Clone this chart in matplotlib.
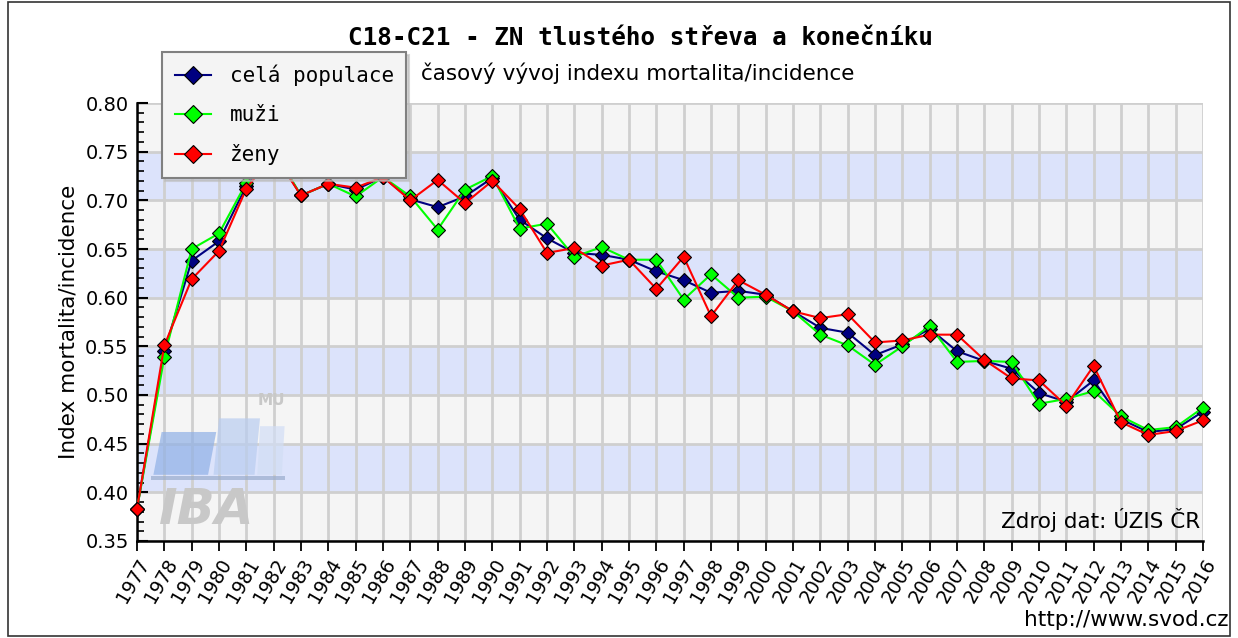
import matplotlib
matplotlib.use("Agg")
import matplotlib.pyplot as plt
from matplotlib.patches import Rectangle, Polygon
from matplotlib.ticker import MultipleLocator

years = list(range(1977, 2017))
cela = [0.383, 0.545, 0.638, 0.658, 0.715, 0.750, 0.705, 0.717, 0.711, 0.724,
        0.701, 0.693, 0.704, 0.723, 0.680, 0.661, 0.646, 0.644, 0.639, 0.627,
        0.618, 0.605, 0.607, 0.603, 0.586, 0.569, 0.564, 0.541, 0.552, 0.568,
        0.545, 0.535, 0.527, 0.502, 0.493, 0.515, 0.475, 0.462, 0.465, 0.483]
muzi = [0.383, 0.539, 0.650, 0.666, 0.718, 0.752, 0.705, 0.717, 0.704, 0.724,
        0.704, 0.670, 0.711, 0.725, 0.671, 0.676, 0.642, 0.652, 0.639, 0.639,
        0.598, 0.624, 0.600, 0.601, 0.586, 0.562, 0.551, 0.531, 0.550, 0.571,
        0.534, 0.535, 0.534, 0.491, 0.496, 0.504, 0.478, 0.464, 0.467, 0.487]
zeny = [0.383, 0.551, 0.619, 0.648, 0.712, 0.748, 0.705, 0.717, 0.713, 0.724,
        0.700, 0.721, 0.697, 0.720, 0.691, 0.646, 0.651, 0.633, 0.639, 0.609,
        0.642, 0.581, 0.618, 0.603, 0.586, 0.579, 0.583, 0.554, 0.556, 0.562,
        0.562, 0.536, 0.517, 0.515, 0.489, 0.530, 0.472, 0.459, 0.463, 0.474]
series_names = ["celá populace", "muži", "ženy"]
series_colors = ["#000080", "#00ff00", "#ff0000"]
y_ticks = [0.35, 0.40, 0.45, 0.50, 0.55, 0.60, 0.65, 0.70, 0.75, 0.80]

fig = plt.figure(figsize=(12.38, 6.38), dpi=100)
fig.patch.set_facecolor("white")
# outer frame
fig.patches.append(Rectangle((8/1238, 2/638), 1222/1238, 634/638, transform=fig.transFigure,
                             fill=False, edgecolor="#333333", linewidth=1.2))

ax = fig.add_axes([137/1238, 1 - 541/638, (1203-137)/1238, (541-103)/638])
ax.set_facecolor("#f5f5f5")
ax.set_xlim(years[0], years[-1])
ax.set_ylim(y_ticks[0], y_ticks[-1])

# alternating bands
for i in range(len(y_ticks) - 1):
    if i % 2 == 1:
        ax.axhspan(y_ticks[i], y_ticks[i+1], color="#dce3fb", zorder=0, linewidth=0)

ax.set_xticks(years)
ax.set_xticklabels([str(y) for y in years], rotation=60, ha="right", va="top",
                   rotation_mode="anchor", fontsize=13.5)
ax.set_yticks(y_ticks)
ax.set_yticklabels(["%.2f" % v for v in y_ticks], fontsize=14)
ax.yaxis.set_minor_locator(MultipleLocator(0.01))
ax.grid(True, which="major", color="#cfcfcf", linewidth=2, zorder=1)
ax.set_axisbelow(True)
ax.tick_params(axis="y", which="major", direction="in", length=8, width=1.5, pad=6)
ax.tick_params(axis="y", which="minor", direction="in", length=5, width=1.2)
ax.tick_params(axis="x", which="major", direction="out", length=7, width=1.3, pad=3)
for s in ["top", "right"]:
    ax.spines[s].set_visible(False)
for s in ["left", "bottom"]:
    ax.spines[s].set_linewidth(1.8)
ax.set_ylabel("Index mortalita/incidence", fontsize=15.5, labelpad=5)

# watermark
ax.add_patch(Polygon([(1977.6, 0.418), (1979.6, 0.418), (1979.9, 0.462), (1977.9, 0.462)],
                     closed=True, facecolor="#8fb0e6", alpha=0.7, edgecolor="none", zorder=1.5))
ax.add_patch(Polygon([(1979.8, 0.418), (1981.3, 0.418), (1981.5, 0.476), (1980.0, 0.476)],
                     closed=True, facecolor="#b9cdf0", alpha=0.7, edgecolor="none", zorder=1.5))
ax.add_patch(Polygon([(1981.4, 0.418), (1982.3, 0.418), (1982.4, 0.468), (1981.5, 0.468)],
                     closed=True, facecolor="#d2def5", alpha=0.7, edgecolor="none", zorder=1.5))
ax.add_patch(Rectangle((1977.5, 0.413), 4.9, 0.004, facecolor="#9aaccc", alpha=0.7,
                       edgecolor="none", zorder=1.5))
ax.text(1977.8, 0.382, "IBA", fontsize=36, fontweight="bold", fontstyle="italic",
        color="#c8c8c8", zorder=1.5, ha="left", va="center")
ax.text(1981.4, 0.49, "MU", fontsize=11, fontweight="bold", color="#c8c8c8", zorder=1.5)

handles = []
for vals, name, col in zip([cela, muzi, zeny], series_names, series_colors):
    h, = ax.plot(years, vals, color=col, linewidth=1.5, marker="D", markersize=7,
                 markerfacecolor=col, markeredgecolor="black", markeredgewidth=0.8,
                 label=name, zorder=3, clip_on=False)
    handles.append(h)

ax.text(2015.9, 0.359, "Zdroj dat: ÚZIS ČR", ha="right", va="bottom", fontsize=15.5, zorder=4)

leg = ax.legend(handles=handles, loc="upper left", bbox_to_anchor=(162/1238, 1 - 52/638),
                bbox_transform=fig.transFigure, prop={"family": "DejaVu Sans Mono", "size": 15},
                frameon=True, fancybox=False, shadow={"color": "#bbbbbb", "alpha": 0.6},
                borderpad=0.6, labelspacing=0.92,
                handlelength=1.75, handletextpad=0.9, borderaxespad=0, markerscale=1.3)
leg.get_frame().set_facecolor("#f4f4f4")
leg.get_frame().set_edgecolor("#808080")
leg.get_frame().set_linewidth(1.5)
leg.set_zorder(10)

fig.text(640/1238, 1 - 38/638, "C18-C21 - ZN tlustého střeva a konečníku", ha="center",
         va="center", fontsize=17.5, fontweight="bold", family="DejaVu Sans Mono")
fig.text(638/1238, 1 - 73/638, "časový vývoj indexu mortalita/incidence", ha="center",
         va="center", fontsize=15.5)
fig.text(1228/1238, 1 - 620/638, "http://www.svod.cz", ha="right", va="center", fontsize=15.5)

fig.savefig("out.png", dpi=100)
